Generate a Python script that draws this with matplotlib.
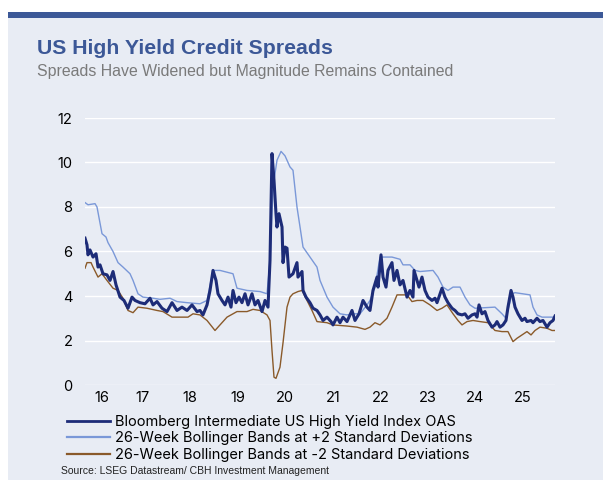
import matplotlib
matplotlib.use("Agg")
import matplotlib.pyplot as plt
from matplotlib.patches import Rectangle

# dates as decimal years, values in %
oas_t = [2016.284, 2016.326, 2016.347, 2016.389, 2016.453, 2016.516, 2016.558, 2016.600, 2016.663, 2016.747,
         2016.811, 2016.874, 2016.937, 2017.021, 2017.105, 2017.189, 2017.274, 2017.337, 2017.442, 2017.547,
         2017.653, 2017.716, 2017.800, 2017.905, 2018.011, 2018.116, 2018.221, 2018.326, 2018.432, 2018.537,
         2018.642, 2018.705, 2018.768, 2018.853, 2018.916, 2018.979, 2019.042, 2019.084, 2019.168, 2019.232,
         2019.295, 2019.358, 2019.400, 2019.463, 2019.526, 2019.589, 2019.653, 2019.716, 2019.800, 2019.863,
         2019.926, 2020.011, 2020.074, 2020.137, 2020.179, 2020.221, 2020.263, 2020.305, 2020.326, 2020.368,
         2020.432, 2020.453, 2020.495, 2020.537, 2020.579, 2020.663, 2020.747, 2020.768, 2020.853, 2020.874,
         2020.937, 2021.021, 2021.084, 2021.168, 2021.232, 2021.295, 2021.379, 2021.463, 2021.505, 2021.589,
         2021.653, 2021.716, 2021.800, 2021.905, 2021.968, 2022.053, 2022.137, 2022.221, 2022.284, 2022.347,
         2022.432, 2022.453, 2022.516, 2022.558, 2022.621, 2022.663, 2022.747, 2022.789, 2022.853, 2022.916,
         2022.979, 2023.063, 2023.126, 2023.189, 2023.211, 2023.274, 2023.316, 2023.379, 2023.442, 2023.505,
         2023.589, 2023.653, 2023.695, 2023.800, 2023.863, 2023.926, 2024.011, 2024.074, 2024.137, 2024.221,
         2024.284, 2024.347, 2024.432, 2024.495, 2024.537, 2024.579, 2024.642, 2024.705, 2024.768, 2024.853,
         2024.916, 2024.958, 2025.021, 2025.084, 2025.147, 2025.189, 2025.253, 2025.295, 2025.337, 2025.400,
         2025.484, 2025.547, 2025.589, 2025.674, 2025.716, 2025.800, 2025.863, 2025.926, 2026.011, 2026.074,
         2026.137, 2026.179]
oas_v = [6.6, 6.3, 5.85, 6.07, 5.75, 5.9, 5.3, 5.4, 5.0, 4.95,
         4.7, 5.1, 4.5, 3.95, 3.8, 3.45, 3.95, 3.8, 3.7, 3.65,
         3.9, 3.6, 3.75, 3.45, 3.3, 3.7, 3.35, 3.5, 3.35, 3.6,
         3.3, 3.35, 3.15, 3.6, 4.25, 5.15, 4.7, 4.1, 3.8, 3.6,
         3.95, 3.5, 4.25, 3.7, 3.95, 3.7, 4.1, 3.6, 4.1, 3.6,
         3.8, 3.3, 3.8, 3.5, 5.6, 10.4, 9.2, 7.7, 7.1, 7.7,
         7.1, 5.5, 6.2, 6.15, 4.85, 5.0, 5.5, 4.85, 5.1, 4.25,
         3.95, 3.7, 3.45, 3.35, 3.15, 2.9, 3.05, 2.85, 2.7, 3.05,
         2.8, 3.05, 2.85, 3.35, 2.9, 3.2, 3.8, 3.5, 3.35, 4.25,
         4.85, 4.4, 5.85, 4.85, 4.4, 5.15, 5.5, 4.7, 5.15, 4.5,
         4.7, 3.95, 4.25, 3.95, 5.15, 4.7, 4.4, 4.85, 4.25, 3.95,
         3.8, 3.9, 3.7, 4.35, 3.95, 3.7, 3.45, 3.35, 3.2, 3.15,
         3.2, 3.0, 3.15, 3.2, 3.05, 3.6, 3.2, 3.3, 2.9, 2.6,
         2.7, 2.85, 2.6, 2.7, 2.9, 3.5, 4.25, 3.95, 3.5, 3.2,
         2.9, 3.0, 2.85, 2.9, 2.8, 3.0, 2.85, 2.9, 2.6, 2.8,
         2.9, 3.1]

upper_t = [2016.284, 2016.347, 2016.495, 2016.537, 2016.642, 2016.726, 2016.768, 2016.874, 2016.979, 2017.084,
           2017.232, 2017.295, 2017.400, 2017.505, 2017.716, 2017.863, 2018.074, 2018.221, 2018.432, 2018.705,
           2018.853, 2018.979, 2019.126, 2019.400, 2019.484, 2019.695, 2019.968, 2020.116, 2020.179, 2020.242,
           2020.326, 2020.411, 2020.495, 2020.600, 2020.663, 2020.747, 2020.811, 2020.874, 2021.021, 2021.168,
           2021.232, 2021.379, 2021.505, 2021.653, 2021.800, 2021.926, 2022.074, 2022.221, 2022.284, 2022.389,
           2022.495, 2022.747, 2022.916, 2022.979, 2023.126, 2023.232, 2023.337, 2023.611, 2023.716, 2023.821,
           2023.926, 2024.032, 2024.179, 2024.284, 2024.389, 2024.495, 2024.916, 2025.063, 2025.147, 2025.274,
           2025.337, 2025.653, 2025.716, 2025.800, 2025.905, 2026.179]
upper_v = [8.2, 8.1, 8.15, 8.0, 6.8, 6.65, 6.4, 6.0, 5.5, 5.3,
           5.0, 4.7, 4.1, 3.95, 3.9, 3.85, 3.9, 3.75, 3.7, 3.65,
           3.8, 5.15, 5.15, 5.0, 4.35, 4.25, 4.2, 4.1, 5.6, 8.9,
           10.1, 10.5, 10.3, 9.8, 9.65, 8.0, 7.1, 6.2, 5.75, 5.3,
           4.7, 3.95, 3.5, 3.2, 3.15, 3.2, 3.2, 3.6, 3.8, 4.4,
           5.75, 5.75, 5.65, 5.4, 5.4, 5.15, 5.1, 5.15, 4.85, 4.4,
           4.25, 4.4, 4.4, 3.95, 3.6, 3.45, 3.5, 3.2, 3.0, 4.1,
           4.15, 4.05, 3.5, 3.15, 3.05, 3.05]

lower_t = [2016.284, 2016.326, 2016.411, 2016.453, 2016.558, 2016.642, 2016.747, 2016.874, 2016.979, 2017.084,
           2017.189, 2017.295, 2017.400, 2017.589, 2017.800, 2017.926, 2018.116, 2018.453, 2018.558, 2018.705,
           2018.853, 2019.021, 2019.126, 2019.274, 2019.400, 2019.484, 2019.695, 2019.821, 2019.968, 2020.116,
           2020.179, 2020.221, 2020.263, 2020.305, 2020.389, 2020.453, 2020.537, 2020.600, 2020.663, 2020.768,
           2020.853, 2020.958, 2021.063, 2021.168, 2021.379, 2021.505, 2021.800, 2022.011, 2022.179, 2022.284,
           2022.389, 2022.495, 2022.642, 2022.747, 2022.853, 2022.979, 2023.063, 2023.168, 2023.274, 2023.400,
           2023.547, 2023.695, 2023.800, 2023.905, 2024.032, 2024.137, 2024.221, 2024.326, 2024.453, 2024.600,
           2024.768, 2024.916, 2025.063, 2025.189, 2025.295, 2025.379, 2025.484, 2025.589, 2025.674, 2025.758,
           2025.863, 2026.011, 2026.116, 2026.179]
lower_v = [5.25, 5.5, 5.5, 5.3, 4.85, 5.0, 4.7, 4.35, 4.25, 3.9,
           3.35, 3.25, 3.5, 3.45, 3.35, 3.3, 3.05, 3.05, 3.2, 3.15,
           2.9, 2.45, 2.7, 3.05, 3.2, 3.3, 3.3, 3.4, 3.35, 3.15,
           2.9, 1.55, 0.35, 0.3, 0.8, 1.9, 3.5, 3.95, 4.1, 4.2,
           4.25, 3.8, 3.35, 2.85, 2.8, 2.7, 2.65, 2.6, 2.5, 2.6,
           2.8, 2.7, 3.0, 3.5, 4.05, 4.05, 4.05, 3.75, 3.8, 3.8,
           3.6, 3.35, 3.45, 3.6, 3.2, 2.9, 2.7, 2.85, 2.9, 2.85,
           2.8, 2.45, 2.4, 2.4, 1.95, 2.1, 2.25, 2.4, 2.25, 2.45,
           2.6, 2.55, 2.45, 2.45]

years = [16, 17, 18, 19, 20, 21, 22, 23, 24, 25]
yticks = [0, 2, 4, 6, 8, 10, 12]

bg = "#E8ECF4"
navy = "#1D2C78"
light = "#7A98D8"
brown = "#8A5A2A"
titleblue = "#3C5897"

fig = plt.figure(figsize=(6.03, 4.90), dpi=100)
fig.patches.append(Rectangle((8 / 603, 10 / 490), 1, 462 / 490, transform=fig.transFigure,
                             facecolor=bg, edgecolor="none", zorder=-2))
fig.patches.append(Rectangle((8 / 603, 1 - 18 / 490), 1, 6 / 490, transform=fig.transFigure,
                             facecolor=titleblue, edgecolor="none", zorder=-1))

fig.text(37 / 603, 1 - 54 / 490, "US High Yield Credit Spreads", fontsize=15.3, fontweight="bold",
         color=titleblue, family="Liberation Sans")
fig.text(37 / 603, 1 - 76 / 490, "Spreads Have Widened but Magnitude Remains Contained", fontsize=11.4,
         color="#7A7A7A", family="Liberation Sans")

ax = fig.add_axes([85 / 603, 1 - 385 / 490, 470 / 603, 267 / 490])
ax.set_facecolor(bg)
ax.plot(upper_t, upper_v, color=light, lw=1.0, label="26-Week Bollinger Bands at +2 Standard Deviations", zorder=2)
ax.plot(lower_t, lower_v, color=brown, lw=1.0, label="26-Week Bollinger Bands at -2 Standard Deviations", zorder=2)
ax.plot(oas_t, oas_v, color=navy, lw=2.2, label="Bloomberg Intermediate US High Yield Index OAS", zorder=3)

ax.set_xlim(oas_t[0], oas_t[-1])
ax.set_ylim(0, 12)
ax.set_yticks(yticks)
ax.set_yticklabels([str(y) for y in yticks], family="Inter", fontsize=10.5)
# year labels sit mid-year; the first one in the middle of the visible part
xpos = [(oas_t[0] + 2017) / 2] + [2000 + y + 0.5 for y in years[1:]]
ax.set_xticks(xpos)
ax.set_xticklabels([str(y) for y in years], family="Inter", fontsize=10.5)
ax.tick_params(length=0)
ax.tick_params(axis="y", pad=9)
ax.tick_params(axis="x", pad=4)
ax.grid(axis="y", color="white", lw=1.0)
ax.set_axisbelow(True)
for s in ax.spines.values():
    s.set_visible(False)

h, l = ax.get_legend_handles_labels()
order = [2, 0, 1]
leg = fig.legend([h[i] for i in order], [l[i] for i in order], loc="upper left",
                 bbox_to_anchor=(60 / 603, 1 - 408 / 490), frameon=False,
                 prop={"family": "Inter", "size": 10.5}, handlelength=2.9, handletextpad=0.4,
                 labelspacing=0.15, borderpad=0)
for line in leg.get_lines():
    line.set_linewidth(1.6)
leg.get_lines()[0].set_linewidth(2.0)

fig.text(61 / 603, 1 - 474 / 490, "Source: LSEG Datastream/ CBH Investment Management", fontsize=7.5,
         color="#222222", family="Liberation Sans")

fig.savefig("out.png", dpi=100)
